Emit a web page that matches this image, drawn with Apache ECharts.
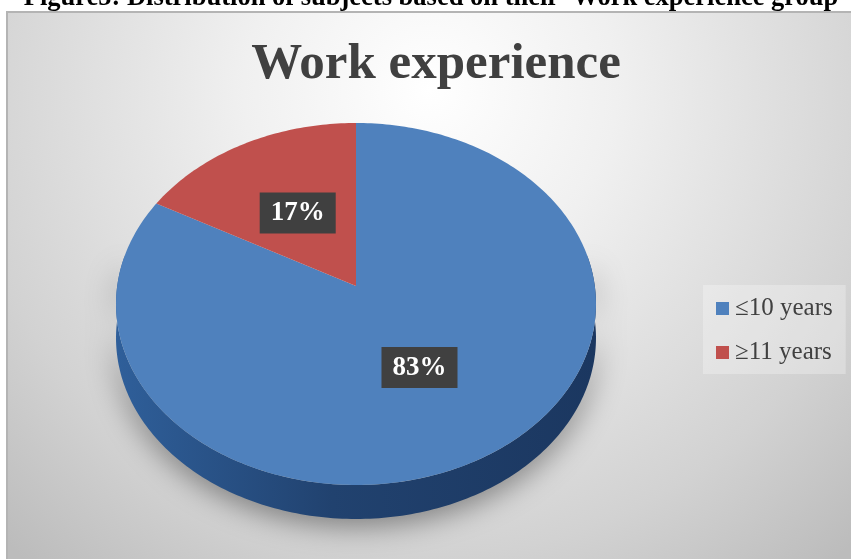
<!DOCTYPE html>
<html><head><meta charset="utf-8">
<style>html,body{margin:0;padding:0;background:#fff;overflow:hidden}#c{width:851px;height:559px}</style>
<script src="https://cdn.jsdelivr.net/npm/echarts@6/dist/echarts.min.js"></script>
</head><body><div id="c"></div>
<script>
const categories = ['≤10 years', '≥11 years'];
const values = [83, 17];
const colors = ['#4f81bd', '#c0504d'];
const chartTitle = 'Work experience';
const figureCaption = "Figure5: Distribution of subjects based on their  Work experience group";

// perspective projection of the pie disc
const cx = 356, cy = 286, A = 238.8, B = 179.2, K = -0.0994, depth = 34;
const total = values.reduce((a, b) => a + b, 0);
function project(deg, f) {
  const t = deg * Math.PI / 180, u = Math.sin(t) * f, v = -Math.cos(t) * f, d = 1 + K * v;
  return [cx + A * u / d, cy + B * v / d];
}
function arc(a0, a1, dy) {
  const pts = [], n = Math.max(2, Math.ceil(Math.abs(a1 - a0)));
  for (let i = 0; i <= n; i++) {
    const p = project(a0 + (a1 - a0) * i / n, 1);
    pts.push([p[0], p[1] + dy]);
  }
  return pts;
}
function renderSlice(idx) {
  return function (params, api) {
    const before = values.slice(0, idx).reduce((a, b) => a + b, 0);
    const a0 = before / total * 360, a1 = a0 + api.value(0) / total * 360;
    const children = [];
    const w0 = Math.max(a0, 80), w1 = Math.min(a1, 280);
    if (w1 > w0) {
      const wall = arc(w0, w1, depth).concat(arc(w1, w0, 0));
      children.push({
        type: 'polygon', shape: { points: wall },
        style: {
          fill: { type: 'linear', global: true, x: 116, y: 0, x2: 596, y2: 0,
            colorStops: [{ offset: 0, color: '#2f5f9a' }, { offset: 0.45, color: '#21426f' }, { offset: 1, color: '#1b3760' }] },
          shadowBlur: 30, shadowColor: 'rgba(0,0,0,0.45)', shadowOffsetY: 6
        }
      });
    }
    const top = (a1 - a0 >= 360 ? [] : [project(0, 0)]).concat(arc(a0, a1, 0));
    children.push({ type: 'polygon', shape: { points: top }, style: { fill: colors[idx] } });
    return { type: 'group', children };
  };
}
function renderLabel(idx) {
  return function (params, api) {
    const before = values.slice(0, idx).reduce((a, b) => a + b, 0);
    const mid = (before + api.value(0) / 2) / total * 360;
    const p = project(mid, 0.5);
    return {
      type: 'text', x: p[0], y: p[1] + 1,
      style: {
        text: api.value(0) + '%', align: 'center', verticalAlign: 'middle',
        fill: '#fff', font: 'bold 27px "Liberation Serif"',
        backgroundColor: '#404040', padding: [7, 11, 7, 11],
        boxShadowBlur: 8, boxShadowColor: 'rgba(0,0,0,0.5)', boxShadowOffsetX: 4, boxShadowOffsetY: 4
      }
    };
  };
}
const series = categories.map((name, i) => ({
  type: 'custom', name, coordinateSystem: 'none', silent: true, z: 2 + i,
  itemStyle: { color: colors[i] },
  renderItem: renderSlice(i), data: [values[i]]
})).concat(categories.map((name, i) => ({
  type: 'custom', name: name + ' label', coordinateSystem: 'none', silent: true, z: 6,
  renderItem: renderLabel(i), data: [values[i]]
})));

const chart = echarts.init(document.getElementById('c'), null, { renderer: 'canvas' });
chart.setOption({
  animation: false,
  backgroundColor: '#fff',
  graphic: [{
    type: 'rect', z: -1, shape: { x: 6, y: 11, width: 845, height: 548 },
    style: {
      fill: { type: 'radial', global: true, x: 430, y: 90, r: 620,
        colorStops: [{ offset: 0, color: '#ffffff' }, { offset: 0.3, color: '#f0f0f0' }, { offset: 0.75, color: '#d2d2d2' }, { offset: 1, color: '#bcbcbc' }] }
    }
  }, {
    type: 'polyline', z: -1, shape: { points: [[7, 559], [7, 12], [851, 12]] },
    style: { fill: null, stroke: '#b4b4b4', lineWidth: 2 }
  }],
  title: [
    { text: figureCaption, left: 431, textAlign: 'center', top: -15, padding: 0,
      textStyle: { fontFamily: 'Liberation Serif', fontWeight: 'bold', fontSize: 26.5, color: '#000' } },
    { text: chartTitle, left: 436, textAlign: 'center', top: 39, padding: 0,
      textStyle: { fontFamily: 'Liberation Serif', fontWeight: 'bold', fontSize: 51, color: '#404040' } }
  ],
  legend: {
    data: categories, orient: 'vertical', left: 703, top: 285, selectedMode: false,
    icon: 'rect', itemWidth: 13, itemHeight: 13, itemGap: 19, padding: [11, 13, 9, 13],
    backgroundColor: 'rgba(255,255,255,0.28)',
    textStyle: { fontFamily: 'Liberation Serif', fontSize: 25, color: '#404040', padding: [0, 0, 0, 1] }
  },
  series
});
</script></body></html>
